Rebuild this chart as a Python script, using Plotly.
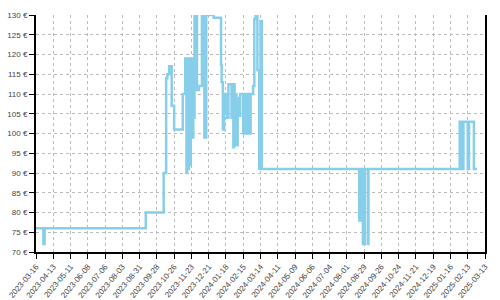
import plotly.graph_objects as go

dates = [
    "2023-03-16", "2023-03-28", "2023-03-30", "2023-09-10", "2023-10-09",
    "2023-10-13", "2023-10-15", "2023-10-18", "2023-10-22", "2023-10-26",
    "2023-11-09", "2023-11-13", "2023-11-15", "2023-11-16", "2023-11-18",
    "2023-11-19", "2023-11-21", "2023-11-22", "2023-11-24", "2023-11-26",
    "2023-11-28", "2023-12-02", "2023-12-05", "2023-12-10", "2023-12-14",
    "2023-12-17", "2023-12-29", "2024-01-10", "2024-01-11", "2024-01-13",
    "2024-01-15", "2024-01-17", "2024-01-18", "2024-01-20", "2024-01-22",
    "2024-01-27", "2024-01-28", "2024-01-30", "2024-01-31", "2024-02-01",
    "2024-02-02", "2024-02-04", "2024-02-06", "2024-02-09", "2024-02-10",
    "2024-02-15", "2024-02-17", "2024-02-21", "2024-02-23", "2024-02-25",
    "2024-02-27", "2024-03-02", "2024-03-04", "2024-03-06", "2024-03-09",
    "2024-03-12", "2024-03-14", "2024-03-16", "2024-08-21", "2024-08-23",
    "2024-08-27", "2024-08-30", "2024-09-04", "2024-09-05", "2025-01-31",
    "2025-02-04", "2025-02-06", "2025-02-13", "2025-02-15", "2025-02-23",
    "2025-02-28",
]
prices = [
    76, 72, 76, 80, 90,
    114, 115, 117, 107, 101,
    110, 119, 90, 119, 91,
    119, 92, 119, 99, 104,
    130, 111, 112, 130, 99,
    130, 129.3, 117.4, 113, 101,
    110, 105, 110, 104, 112.5,
    104, 112.5, 96.5, 112.5, 97,
    110, 97, 109, 104.5, 110,
    100, 110, 100, 110, 100,
    110, 112, 129, 130, 116,
    91, 128.5, 91, 78, 91,
    72, 91, 72, 91, 103,
    91, 103, 91, 103, 91,
    91,
]

tick_dates = [
    "2023-03-16", "2023-04-13", "2023-05-11", "2023-06-08", "2023-07-06",
    "2023-08-03", "2023-08-31", "2023-09-28", "2023-10-26", "2023-11-23",
    "2023-12-21", "2024-01-18", "2024-02-15", "2024-03-14", "2024-04-11",
    "2024-05-09", "2024-06-06", "2024-07-04", "2024-08-01", "2024-08-29",
    "2024-09-26", "2024-10-24", "2024-11-21", "2024-12-19", "2025-01-16",
    "2025-02-13", "2025-03-13",
]
y_ticks = [70, 75, 80, 85, 90, 95, 100, 105, 110, 115, 120, 125, 130]
y_labels = [f"{v} €" for v in y_ticks]

fig = go.Figure()
fig.add_trace(go.Scatter(
    x=dates, y=prices, mode="lines",
    line=dict(shape="hv", color="#87CEEB", width=2.5),
    hoverinfo="skip",
))

font = dict(family="Liberation Sans, Arial, sans-serif", size=8, color="#444444")

fig.update_layout(
    width=500, height=300,
    margin=dict(l=36, r=15, t=15, b=48),
    paper_bgcolor="white", plot_bgcolor="white",
    showlegend=False,
    font=font,
    yaxis2=dict(
        overlaying="y", side="left", range=[70, 130],
        tickmode="array", tickvals=y_ticks, showticklabels=False,
        ticks="inside", ticklen=3, tickcolor="black", tickwidth=1,
        showgrid=False, zeroline=False, showline=False, automargin=False,
    ),
)
fig.update_xaxes(
    type="date",
    range=["2023-03-16", "2025-03-13"],
    tickmode="array", tickvals=tick_dates, ticktext=tick_dates,
    tickangle=-50, tickfont=font,
    ticks="outside", ticklen=5, tickcolor="black", tickwidth=1,
    showline=True, linecolor="black", linewidth=2,
    showgrid=True, gridcolor="#bbbbbb", griddash="3px,3px", gridwidth=1,
    zeroline=False, automargin=False,
)
fig.layout.yaxis.update(
    range=[70, 130],
    tickmode="array", tickvals=y_ticks, ticktext=y_labels,
    tickfont=font,
    ticks="outside", ticklen=5, tickcolor="black", tickwidth=1,
    showline=True, linecolor="black", linewidth=2, mirror=True,
    showgrid=True, gridcolor="#bbbbbb", griddash="3px,3px", gridwidth=1,
    zeroline=False, automargin=False,
)

fig.write_html("out.html")
